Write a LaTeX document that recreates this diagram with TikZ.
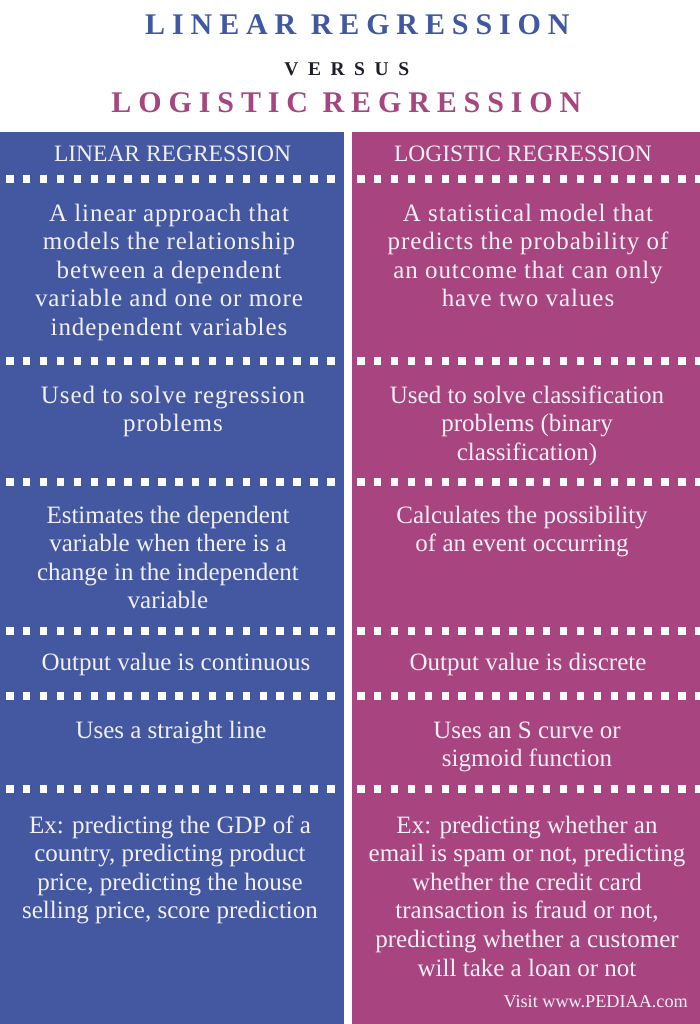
\documentclass[tikz,border=0pt]{standalone}
\usepackage{fontspec}
\setmainfont{Liberation Serif}
\newfontfamily\titlefont{Liberation Serif}[LetterSpace=23]
\newfontfamily\versusfont{Liberation Serif}[LetterSpace=49]
\newfontfamily\spacedfont{Liberation Serif}[LetterSpace=3.8]
\definecolor{colblue}{RGB}{67,88,160}
\definecolor{colmag}{RGB}{168,68,128}
\definecolor{titleblue}{RGB}{64,88,160}
\definecolor{titlemag}{RGB}{166,70,128}
\definecolor{txt}{RGB}{242,240,246}
\definecolor{vsblack}{RGB}{30,30,40}
\tikzset{
  body/.style={text=txt, align=center, inner sep=0pt, anchor=base,
    font=\fontsize{25}{28.6}\selectfont},
  spaced/.style={font=\spacedfont\fontsize{25}{28.6}\selectfont},
  colhead/.style={text=txt, inner sep=0pt, anchor=base,
    font=\fontsize{23.5}{28}\selectfont},
  bigtitle/.style={inner sep=0pt, anchor=base,
    font=\titlefont\bfseries\fontsize{30}{34}\selectfont},
  dots/.style={white, line width=8pt, dash pattern=on 7.5pt off 9.4pt},
}
\begin{document}
\begin{tikzpicture}[x=1pt,y=-1pt]
\useasboundingbox (0,0) rectangle (700,1024);
\fill[white] (0,0) rectangle (700,1024);
% columns
\fill[colblue] (0,132) rectangle (344,1024);
\fill[colmag] (352,132) rectangle (700,1024);
% titles
\node[bigtitle, text=titleblue] (t1) at (354,35) {LINEAR REGRESSION\kern-0.23em};
\node[inner sep=0pt, anchor=base, text=vsblack, font=\versusfont\bfseries\fontsize{19.5}{22}\selectfont] (vs) at (342,76) {VERSUS\kern-0.49em};
\node[bigtitle, text=titlemag] (t2) at (343,113) {LOGISTIC REGRESSION\kern-0.23em};
% column headers
\node[colhead] (hl) at (172.5,161.5) {LINEAR REGRESSION};
\node[colhead] (hr) at (523,161.5) {LOGISTIC REGRESSION};
% dotted separators
\foreach \yy in {179,361,482,631,696,789}{
  \draw[dots] (6,\yy) -- (344,\yy);
  \draw[dots] (357,\yy) -- (700,\yy);
}
% rows (anchor base = baseline of the last line)
\node[body, spaced] (l1) at (169,335.4) {A linear approach that\\models the relationship\\between a dependent\\variable and one or more\\independent variables};
\node[body, spaced] (r1) at (528,306.8) {A statistical model that\\predicts the probability of\\an outcome that can only\\have two values};
\node[body, spaced] (l2) at (173,431.6) {Used to solve regression\\problems};
\node[body] (r2) at (527,460.2) {Used to solve classification\\problems (binary\\classification)};
\node[body] (l3) at (168,608.8) {Estimates the dependent\\variable when there is a\\change in the independent\\variable};
\node[body] (r3) at (522,551.6) {Calculates the possibility\\of an event occurring};
\node[body] (l4) at (176,670) {Output value is continuous};
\node[body] (r4) at (528,670) {Output value is discrete};
\node[body] (l5) at (171,738) {Uses a straight line};
\node[body] (r5) at (527,766.6) {Uses an S curve or\\sigmoid function};
\node[body] (l6) at (170,918.8) {Ex: predicting the GDP of a\\country, predicting product\\price, predicting the house\\selling price, score prediction};
\node[body] (r6) at (527,976) {Ex: predicting whether an\\email is spam or not, predicting\\whether the credit card\\transaction is fraud or not,\\predicting whether a customer\\will take a loan or not};
% footer
\node[inner sep=0pt, anchor=base east, text=txt, font=\fontsize{18.2}{20}\selectfont] (ft) at (688,1007) {Visit www.PEDIAA.com};
\end{tikzpicture}
\end{document}
